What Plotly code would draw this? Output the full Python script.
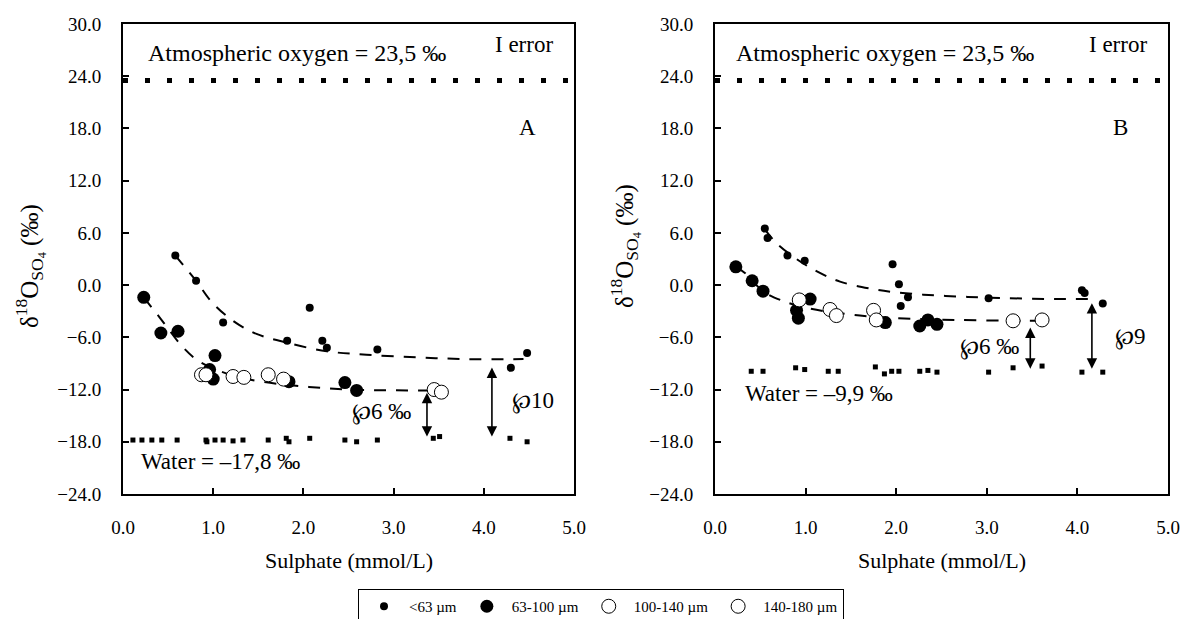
import plotly.graph_objects as go

FONT = "'Liberation Serif', 'Times New Roman', Times, serif"

# ---------------- Panel A data ----------------
A_small_x = [0.58, 0.81, 1.11, 1.82, 2.07, 2.21, 2.26, 2.82, 4.30, 4.48]
A_small_y = [3.4, 0.5, -4.3, -6.4, -2.6, -6.4, -7.2, -7.4, -9.5, -7.8]
A_large_x = [0.23, 0.42, 0.61, 0.96, 1.00, 1.02, 1.84, 2.46, 2.59]
A_large_y = [-1.4, -5.5, -5.3, -9.7, -10.8, -8.1, -11.1, -11.2, -12.1]
A_open1_x = [0.87, 0.92, 1.22, 1.34]
A_open1_y = [-10.3, -10.3, -10.5, -10.6]
A_open2_x = [1.61, 1.78, 3.45, 3.53]
A_open2_y = [-10.3, -10.8, -12.0, -12.3]
A_water_x = [0.11, 0.21, 0.32, 0.43, 0.60, 0.92, 0.93, 1.02, 1.11, 1.22, 1.33, 1.61,
             1.81, 1.84, 2.07, 2.46, 2.59, 2.82, 3.44, 3.51, 4.29, 4.48]
A_water_y = [-17.8, -17.8, -17.8, -17.8, -17.8, -17.8, -18.0, -17.8, -17.8, -17.9, -17.8, -17.8,
             -17.6, -18.0, -17.6, -17.8, -18.0, -17.8, -17.6, -17.4, -17.6, -18.0]
A_up_x = [0.58, 0.81, 0.98, 1.22, 1.48, 1.81, 2.26, 2.70, 3.26, 3.81, 4.44]
A_up_y = [3.4, 0.5, -1.9, -4.1, -5.6, -6.6, -7.6, -8.0, -8.3, -8.5, -8.5]
A_lo_x = [0.23, 0.42, 0.67, 0.85, 1.19, 1.48, 1.96, 2.52, 3.44]
A_lo_y = [-1.4, -3.9, -7.2, -8.8, -10.3, -11.0, -11.6, -12.0, -12.1]

# ---------------- Panel B data ----------------
B_small_x = [0.55, 0.58, 0.80, 0.99, 1.96, 2.03, 2.05, 2.13, 3.02, 4.05, 4.08, 4.28]
B_small_y = [6.5, 5.4, 3.4, 2.8, 2.4, 0.1, -2.4, -1.4, -1.5, -0.6, -0.9, -2.1]
B_large_x = [0.23, 0.41, 0.53, 0.90, 0.92, 1.05, 1.88, 2.26, 2.35, 2.45]
B_large_y = [2.1, 0.5, -0.7, -2.9, -3.8, -1.6, -4.3, -4.7, -4.0, -4.5]
B_open1_x = [0.93, 1.27, 1.34]
B_open1_y = [-1.7, -2.8, -3.5]
B_open2_x = [1.75, 1.78, 3.29, 3.61]
B_open2_y = [-2.9, -4.0, -4.1, -4.0]
B_water_x = [0.40, 0.53, 0.89, 0.99, 1.25, 1.36, 1.77, 1.87, 1.95, 2.03, 2.26, 2.35,
             2.45, 3.02, 3.29, 3.61, 4.05, 4.28]
B_water_y = [-9.9, -9.9, -9.5, -9.7, -9.9, -9.9, -9.4, -10.2, -9.9, -9.9, -9.9, -9.8,
             -10.0, -10.0, -9.5, -9.3, -10.0, -10.0]
B_up_x = [0.55, 0.68, 0.90, 1.12, 1.38, 1.71, 1.97, 2.30, 2.67, 3.04, 3.77, 4.19]
B_up_y = [6.4, 4.8, 3.0, 1.6, 0.4, -0.4, -0.8, -1.1, -1.3, -1.45, -1.6, -1.6]
B_lo_x = [0.23, 0.33, 0.53, 0.72, 1.05, 1.60, 2.00, 2.67, 3.40, 3.58]
B_lo_y = [2.1, 1.4, -0.7, -1.7, -2.7, -3.5, -3.8, -4.0, -4.1, -4.1]

ATM_O = 23.5
legend_names = ["<63 µm", "63-100 µm", "100-140 µm", "140-180 µm"]
x_ticks = [0, 1, 2, 3, 4, 5]
y_ticks = [-24, -18, -12, -6, 0, 6, 12, 18, 24, 30]

fig = go.Figure()

def add_panel(xa, ya, small, large, op1, op2, water, up, lo, show):
    ax = "x" if xa == 1 else f"x{xa}"
    ay = "y" if ya == 1 else f"y{ya}"
    dash = dict(color="black", width=2, dash="12px,10px")
    fig.add_trace(go.Scatter(x=up[0], y=up[1], mode="lines", line=dict(shape="spline", **dash),
                             xaxis=ax, yaxis=ay, showlegend=False, hoverinfo="skip"))
    fig.add_trace(go.Scatter(x=lo[0], y=lo[1], mode="lines", line=dict(shape="spline", **dash),
                             xaxis=ax, yaxis=ay, showlegend=False, hoverinfo="skip"))
    fig.add_trace(go.Scatter(x=water[0], y=water[1], mode="markers",
                             marker=dict(symbol="square", size=5, color="black"),
                             xaxis=ax, yaxis=ay, showlegend=False, hoverinfo="skip"))
    fig.add_trace(go.Scatter(x=small[0], y=small[1], mode="markers", name=legend_names[0],
                             marker=dict(symbol="circle", size=8, color="black"),
                             xaxis=ax, yaxis=ay, showlegend=show))
    fig.add_trace(go.Scatter(x=large[0], y=large[1], mode="markers", name=legend_names[1],
                             marker=dict(symbol="circle", size=13, color="black"),
                             xaxis=ax, yaxis=ay, showlegend=show))
    fig.add_trace(go.Scatter(x=op1[0], y=op1[1], mode="markers", name=legend_names[2],
                             marker=dict(symbol="circle", size=14, color="white",
                                         line=dict(color="black", width=1)),
                             xaxis=ax, yaxis=ay, showlegend=show))
    fig.add_trace(go.Scatter(x=op2[0], y=op2[1], mode="markers", name=legend_names[3],
                             marker=dict(symbol="circle", size=14, color="white",
                                         line=dict(color="black", width=1)),
                             xaxis=ax, yaxis=ay, showlegend=show))

add_panel(1, 1, (A_small_x, A_small_y), (A_large_x, A_large_y), (A_open1_x, A_open1_y),
          (A_open2_x, A_open2_y), (A_water_x, A_water_y), (A_up_x, A_up_y), (A_lo_x, A_lo_y), True)
add_panel(2, 2, (B_small_x, B_small_y), (B_large_x, B_large_y), (B_open1_x, B_open1_y),
          (B_open2_x, B_open2_y), (B_water_x, B_water_y), (B_up_x, B_up_y), (B_lo_x, B_lo_y), False)

# atmospheric oxygen dotted lines
for xr, yr in (("x", "y"), ("x2", "y2")):
    fig.add_shape(type="line", xref=xr, yref=yr, x0=0, x1=5, y0=ATM_O, y1=ATM_O,
                  line=dict(color="black", width=5, dash="5px,17px"))

axis_common = dict(showline=True, mirror=True, linecolor="black", linewidth=2,
                   ticks="inside", ticklen=6, tickwidth=2, tickcolor="black",
                   showgrid=False, zeroline=False, tickformat=".1f", automargin=False,
                   tickfont=dict(family=FONT, size=19, color="black"))

xa = dict(axis_common, range=[0, 5], tickvals=x_ticks, ticklabelstandoff=15)
ya = dict(axis_common, range=[-24, 30], tickvals=y_ticks, ticklabelstandoff=16)

y_dom = [1 - 494 / 619, 1 - 24 / 619]
fig.update_layout(
    width=1184, height=619,
    margin=dict(l=0, r=0, t=0, b=0, autoexpand=False),
    paper_bgcolor="white", plot_bgcolor="white",
    font=dict(family=FONT, color="black"),
    xaxis=dict(xa, domain=[123 / 1184, 574 / 1184], anchor="y"),
    yaxis=dict(ya, domain=y_dom, anchor="x"),
    xaxis2=dict(xa, domain=[715 / 1184, 1168 / 1184], anchor="y2"),
    yaxis2=dict(ya, domain=y_dom, anchor="x2"),
    legend=dict(orientation="h", x=601 / 1184, xanchor="center", y=1 - 589 / 619, yanchor="top",
                bordercolor="black", borderwidth=1, font=dict(family=FONT, size=15, color="black"),
                itemwidth=40, tracegroupgap=0, bgcolor="white"),
)

TXT = 23
ann = []
for xr, yr, p, xt in (("x", "y", "A", 0.26), ("x2", "y2", "B", 0.21)):
    ann.append(dict(xref=xr, yref=yr, x=xt, y=26.7, text="Atmospheric oxygen = 23,5 ‰",
                    showarrow=False, xanchor="left", yanchor="middle", font=dict(size=24)))
    ann.append(dict(xref=xr, yref=yr, x=4.79, y=27.6, text="I error",
                    showarrow=False, xanchor="right", yanchor="middle", font=dict(size=TXT)))
    ann.append(dict(xref=xr, yref=yr, x=4.48, y=18.1, text=p,
                    showarrow=False, xanchor="center", yanchor="middle", font=dict(size=TXT)))
    ann.append(dict(xref=xr + " domain", yref="paper", x=0.5, y=1 - 560 / 619,
                    text="Sulphate (mmol/L)", showarrow=False, xanchor="center",
                    yanchor="middle", font=dict(size=22)))

ann.append(dict(xref="x", yref="y", x=0.18, y=-20.3, text="Water = –17,8 ‰",
                showarrow=False, xanchor="left", yanchor="middle", font=dict(size=TXT)))
ann.append(dict(xref="x2", yref="y2", x=0.31, y=-12.4, text="Water = –9,9 ‰",
                showarrow=False, xanchor="left", yanchor="middle", font=dict(size=TXT)))

# y titles
ytitle = "δ<sup>18</sup>O<sub>SO<sub>4</sub></sub> (‰)"
ann.append(dict(xref="paper", yref="paper", x=30 / 1184, y=1 - 266 / 619,
                text=ytitle, textangle=-90, showarrow=False, xanchor="center",
                yanchor="middle", font=dict(size=25)))
ann.append(dict(xref="paper", yref="paper", x=625 / 1184, y=1 - 246 / 619,
                text=ytitle, textangle=-90, showarrow=False, xanchor="center",
                yanchor="middle", font=dict(size=25)))

# arrows
arrows = [("x", "y", 3.37, -12.2, -17.4), ("x", "y", 4.09, -9.3, -17.4),
          ("x2", "y2", 3.48, -4.7, -9.6), ("x2", "y2", 4.16, -1.9, -9.6)]
for xr, yr, xv, y_top, y_bot in arrows:
    ann.append(dict(xref=xr, yref=yr, axref=xr, ayref=yr, x=xv, y=y_bot, ax=xv, ay=y_top,
                    text="", showarrow=True, arrowhead=2, startarrowhead=2, arrowside="end+start",
                    arrowsize=1.3, startarrowsize=1.3, arrowwidth=1.6, arrowcolor="black"))

ann.append(dict(xref="x", yref="y", x=3.22, y=-14.6, text="℘6 ‰", showarrow=False,
                xanchor="right", yanchor="middle", font=dict(size=TXT)))
ann.append(dict(xref="x", yref="y", x=4.29, y=-13.3, text="℘10", showarrow=False,
                xanchor="left", yanchor="middle", font=dict(size=TXT)))
ann.append(dict(xref="x2", yref="y2", x=3.38, y=-7.1, text="℘6 ‰", showarrow=False,
                xanchor="right", yanchor="middle", font=dict(size=TXT)))
ann.append(dict(xref="x2", yref="y2", x=4.39, y=-6.0, text="℘9", showarrow=False,
                xanchor="left", yanchor="middle", font=dict(size=TXT)))

fig.update_layout(annotations=ann)
fig.write_html("out.html", config={"displayModeBar": False},
               post_script="document.body.style.margin='0';document.body.style.overflow='hidden';")
